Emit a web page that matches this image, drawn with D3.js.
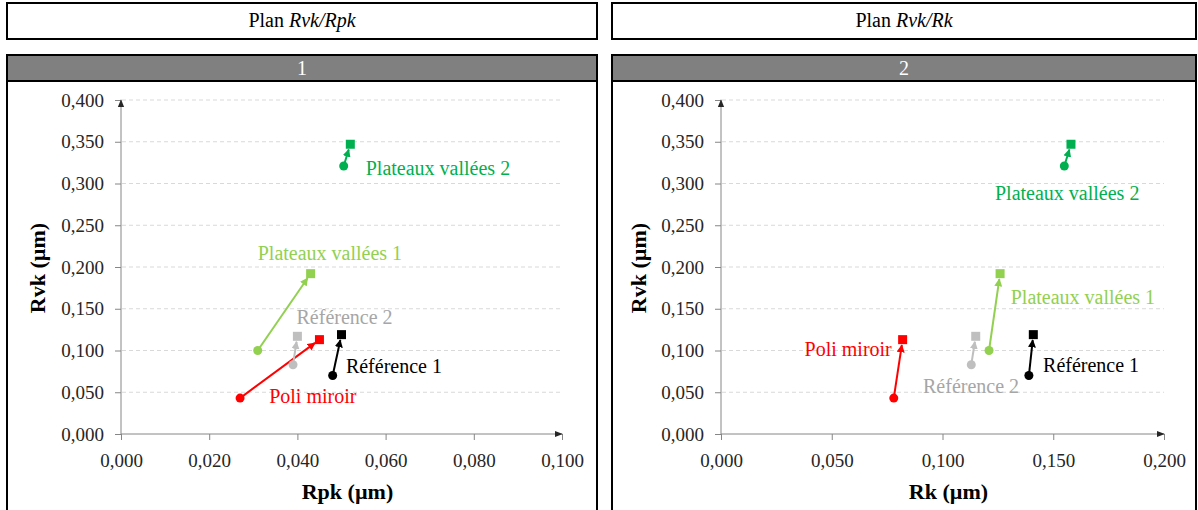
<!DOCTYPE html>
<html>
<head>
<meta charset="utf-8">
<script src="https://cdn.jsdelivr.net/npm/d3@7"></script>
<style>
  body { margin: 0; background: #fff; }
  svg, svg text { font-family: "Liberation Serif", "Times New Roman", Times, Tinos, "DejaVu Serif", serif !important; }
</style>
</head>
<body>
<script>
// Sample names, one per arrow (before = circle, after = square)
const samples = ["Poli miroir", "Référence 1", "Référence 2", "Plateaux vallées 1", "Plateaux vallées 2"];
const sampleColors = ["#ff0000", "#000000", "#bfbfbf", "#92d050", "#00b050"];
const labelColors = ["#ff0000", "#000000", "#a6a6a6", "#92d050", "#00b050"];

// Rvk (µm), shared by both plots
const rvkBefore = [0.043, 0.070, 0.083, 0.100, 0.321];
const rvkAfter = [0.113, 0.119, 0.117, 0.192, 0.347];

// Rpk (µm), plot 1
const rpkBefore = [0.027, 0.048, 0.039, 0.031, 0.0505];
const rpkAfter = [0.045, 0.050, 0.040, 0.043, 0.052];

// Rk (µm), plot 2
const rkBefore = [0.078, 0.139, 0.113, 0.121, 0.155];
const rkAfter = [0.082, 0.141, 0.115, 0.126, 0.158];

// label anchors, in data units
const rpkLabelX = [0.0336, 0.051, 0.0398, 0.031, 0.0555];
const rpkLabelY = [0.045, 0.081, 0.140, 0.217, 0.319];
const rpkLabelAnchor = ["start", "start", "start", "start", "start"];
const rkLabelX = [0.0771, 0.1454, 0.0912, 0.1308, 0.1237];
const rkLabelY = [0.102, 0.083, 0.058, 0.164, 0.289];
const rkLabelAnchor = ["end", "start", "start", "start", "start"];

// ticks
const rvkTicks = [0, 0.05, 0.1, 0.15, 0.2, 0.25, 0.3, 0.35, 0.4];
const rpkTicks = [0, 0.02, 0.04, 0.06, 0.08, 0.1];
const rkTicks = [0, 0.05, 0.1, 0.15, 0.2];

const fr = d3.formatLocale({decimal: ",", thousands: " ", grouping: [3], currency: ["", " €"]});
const fmt = fr.format(".3f");

const svg = d3.select("body").append("svg").attr("width", 1198).attr("height", 510);

const defs = svg.append("defs");
defs.append("marker").attr("id", "axisArrow")
  .attr("viewBox", "0 0 10 10").attr("refX", 9).attr("refY", 5)
  .attr("markerWidth", 8).attr("markerHeight", 8).attr("orient", "auto")
  .attr("markerUnits", "userSpaceOnUse")
  .append("path").attr("d", "M0,1 L10,5 L0,9 Z").attr("fill", "#262626");

sampleColors.forEach((c, i) => {
  defs.append("marker").attr("id", "arr" + i)
    .attr("viewBox", "0 0 10 10").attr("refX", 9).attr("refY", 5)
    .attr("markerWidth", 8).attr("markerHeight", 8).attr("orient", "auto")
    .attr("markerUnits", "userSpaceOnUse")
    .append("path").attr("d", "M0,0 L10,5 L0,10 Z").attr("fill", c);
});

function drawPanel(p) {
  const g = svg.append("g");

  // title box
  g.append("rect").attr("x", p.left).attr("y", 3).attr("width", p.width).attr("height", 36)
    .attr("fill", "#fff").attr("stroke", "#000").attr("stroke-width", 2);
  const t = g.append("text").attr("x", p.left + p.width / 2).attr("y", 27)
    .attr("text-anchor", "middle").attr("font-size", 20).attr("fill", "#000");
  t.append("tspan").text("Plan ");
  t.append("tspan").attr("font-style", "italic").text(p.title);

  // gray header + body frame
  g.append("rect").attr("x", p.left).attr("y", 55).attr("width", p.width).attr("height", 26)
    .attr("fill", "#808080").attr("stroke", "#000").attr("stroke-width", 2);
  g.append("text").attr("x", p.left + p.width / 2).attr("y", 75)
    .attr("text-anchor", "middle").attr("font-size", 20).attr("fill", "#fff").text(p.num);
  g.append("path")
    .attr("d", `M${p.left},81 V512 M${p.left + p.width},81 V512`)
    .attr("stroke", "#000").attr("stroke-width", 2).attr("fill", "none");

  const x = d3.scaleLinear().domain(p.xDomain).range(p.xRange);
  const y = d3.scaleLinear().domain([0, 0.4]).range([434, 100]);

  // gridlines
  g.append("g").selectAll("line").data(rvkTicks.slice(1)).join("line")
    .attr("x1", x(0) + 1).attr("x2", x.range()[1])
    .attr("y1", d => y(d)).attr("y2", d => y(d))
    .attr("stroke", "#d9d9d9").attr("stroke-dasharray", "4,3");

  // axes
  const yAxis = d3.axisLeft(y).tickValues(rvkTicks).tickFormat(fmt).tickSize(6).tickSizeOuter(0).tickPadding(11);
  const xAxis = d3.axisBottom(x).tickValues(p.xTicks).tickFormat(fmt).tickSize(6).tickSizeOuter(0).tickPadding(14);

  const ya = g.append("g").attr("transform", `translate(${x(0)},0)`).call(yAxis);
  const xa = g.append("g").attr("transform", `translate(0,${y(0)})`).call(xAxis);
  [ya, xa].forEach(a => {
    a.attr("font-family", null);
    a.select(".domain").remove();
    a.selectAll("line").attr("stroke", "#868686");
    a.selectAll("text").attr("font-size", 19).attr("fill", "#262626");
  });
  g.append("line").attr("x1", x(0)).attr("x2", x(0)).attr("y1", y(0)).attr("y2", y(0.4))
    .attr("stroke", "#868686").attr("marker-end", "url(#axisArrow)");
  g.append("line").attr("x1", x(0)).attr("x2", x.range()[1]).attr("y1", y(0)).attr("y2", y(0))
    .attr("stroke", "#868686").attr("marker-end", "url(#axisArrow)");

  // axis titles
  g.append("text").attr("x", (x.range()[0] + x.range()[1]) / 2 + 6).attr("y", 499)
    .attr("text-anchor", "middle").attr("font-size", 22).attr("font-weight", "bold").text(p.xTitle);
  g.append("text").attr("transform", `translate(${p.yTitleX},268) rotate(-90)`)
    .attr("text-anchor", "middle").attr("dy", "0.35em").attr("font-size", 22).attr("font-weight", "bold")
    .text("Rvk (µm)");

  // arrows
  samples.forEach((s, i) => {
    const x0 = x(p.before[i]), y0 = y(rvkBefore[i]);
    const x1 = x(p.after[i]), y1 = y(rvkAfter[i]);
    const len = Math.hypot(x1 - x0, y1 - y0);
    const k = Math.max(0, (len - 5.5) / len);
    g.append("line").attr("x1", x0).attr("y1", y0)
      .attr("x2", x0 + (x1 - x0) * k).attr("y2", y0 + (y1 - y0) * k)
      .attr("stroke", sampleColors[i]).attr("stroke-width", 2)
      .attr("marker-end", `url(#arr${i})`);
    g.append("circle").attr("cx", x0).attr("cy", y0).attr("r", 4.5).attr("fill", sampleColors[i]);
    g.append("rect").attr("x", x1 - 4.5).attr("y", y1 - 4.5).attr("width", 9).attr("height", 9)
      .attr("fill", sampleColors[i]);
    g.append("text").attr("x", x(p.labelX[i])).attr("y", y(p.labelY[i])).attr("dy", "0.35em")
      .attr("text-anchor", p.labelAnchor[i])
      .attr("font-size", 20).attr("fill", labelColors[i]).text(s);
  });
}

drawPanel({
  left: 7, width: 590, title: "Rvk/Rpk", num: "1", yTitleX: 37,
  xDomain: [0, 0.1], xRange: [121, 562], xTicks: rpkTicks, xTitle: "Rpk (µm)",
  before: rpkBefore, after: rpkAfter,
  labelX: rpkLabelX, labelY: rpkLabelY, labelAnchor: rpkLabelAnchor
});

drawPanel({
  left: 612, width: 584, title: "Rvk/Rk", num: "2", yTitleX: 638,
  xDomain: [0, 0.2], xRange: [721, 1164], xTicks: rkTicks, xTitle: "Rk (µm)",
  before: rkBefore, after: rkAfter,
  labelX: rkLabelX, labelY: rkLabelY, labelAnchor: rkLabelAnchor
});
</script>
</body>
</html>
